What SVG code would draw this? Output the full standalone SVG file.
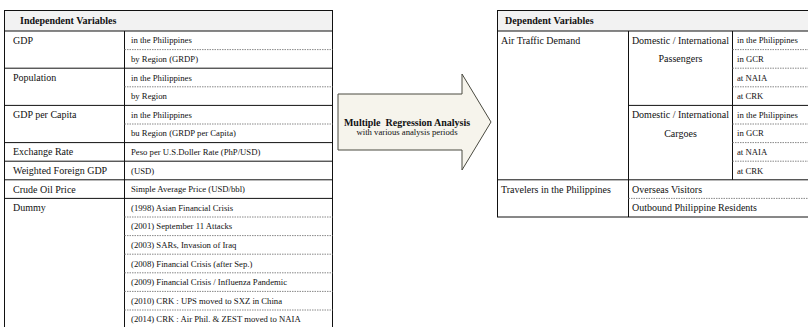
<svg xmlns="http://www.w3.org/2000/svg" width="808" height="327" viewBox="0 0 808 327">
<style>
text{font-family:"Liberation Serif","Times New Roman",serif;fill:#111}
.hd{font-weight:bold;font-size:10px}
.lb{font-size:10px}
.sm{font-size:8.7px}
.ln{stroke:#111;stroke-width:1;fill:none}
.ds{stroke:#888;stroke-width:1;stroke-dasharray:1.5 1;fill:none}
.hf{fill:#f2f2f2}
</style>
<rect width="808" height="327" fill="#fff"/>
<g id="independent">
<rect class="hf" x="4.5" y="10.5" width="328" height="20.5"/>
<rect class="ln" x="4.5" y="10.5" width="328" height="330"/>
<line class="ln" x1="124.5" y1="31" x2="124.5" y2="340"/>
<g class="ln">
<line x1="4.5" y1="31" x2="332.5" y2="31"/>
<line x1="4.5" y1="68.2" x2="332.5" y2="68.2"/>
<line x1="4.5" y1="105.4" x2="332.5" y2="105.4"/>
<line x1="4.5" y1="142.6" x2="332.5" y2="142.6"/>
<line x1="4.5" y1="161.2" x2="332.5" y2="161.2"/>
<line x1="4.5" y1="179.8" x2="332.5" y2="179.8"/>
<line x1="4.5" y1="198.4" x2="332.5" y2="198.4"/>
</g>
<g class="ds">
<line x1="124.5" y1="49.6" x2="332.5" y2="49.6"/>
<line x1="124.5" y1="86.8" x2="332.5" y2="86.8"/>
<line x1="124.5" y1="124" x2="332.5" y2="124"/>
<line x1="124.5" y1="217" x2="332.5" y2="217"/>
<line x1="124.5" y1="235.6" x2="332.5" y2="235.6"/>
<line x1="124.5" y1="254.2" x2="332.5" y2="254.2"/>
<line x1="124.5" y1="272.8" x2="332.5" y2="272.8"/>
<line x1="124.5" y1="291.4" x2="332.5" y2="291.4"/>
<line x1="124.5" y1="310" x2="332.5" y2="310"/>
</g>
<text class="hd" x="20" y="24">Independent Variables</text>
<g class="lb">
<text x="13" y="43.8">GDP</text>
<text x="13" y="81">Population</text>
<text x="13" y="118.2">GDP per Capita</text>
<text x="13" y="155.4">Exchange Rate</text>
<text x="13" y="174">Weighted Foreign GDP</text>
<text x="13" y="192.6">Crude Oil Price</text>
<text x="13" y="211.2">Dummy</text>
</g>
<g class="sm">
<text x="131" y="43.4">in the Philippines</text>
<text x="131" y="62">by Region (GRDP)</text>
<text x="131" y="80.6">in the Philippines</text>
<text x="131" y="99.2">by Region</text>
<text x="131" y="117.8">in the Philippines</text>
<text x="131" y="136.4">bu Region (GRDP per Capita)</text>
<text x="131" y="155">Peso per U.S.Doller Rate (PhP/USD)</text>
<text x="131" y="173.6">(USD)</text>
<text x="131" y="192.2">Simple Average Price (USD/bbl)</text>
<text x="131" y="210.8">(1998) Asian Financial Crisis</text>
<text x="131" y="229.4">(2001) September 11 Attacks</text>
<text x="131" y="248">(2003) SARs, Invasion of Iraq</text>
<text x="131" y="266.6">(2008) Financial Crisis (after Sep.)</text>
<text x="131" y="285.2">(2009) Financial Crisis / Influenza Pandemic</text>
<text x="131" y="303.8">(2010) CRK : UPS moved to SXZ in China</text>
<text x="131" y="322.4">(2014) CRK : Air Phil. &amp; ZEST moved to NAIA</text>
</g>
</g>
<g id="connectors">
<polygon points="338,94 462,94 462,74 491,122 462,170 462,150 338,150" fill="#f6f4ec" stroke="#4a4a40" stroke-width="1"/>
</g>
<g id="analysis">
<text class="hd" x="407" y="125.5" text-anchor="middle" xml:space="preserve">Multiple  Regression Analysis</text>
<text class="sm" x="407" y="134.5" text-anchor="middle">with various analysis periods</text>
</g>
<g id="dependent">
<rect class="hf" x="497.5" y="10.5" width="315" height="20.5"/>
<rect class="ln" x="497.5" y="10.5" width="315" height="206.5"/>
<line class="ln" x1="628.5" y1="31" x2="628.5" y2="217"/>
<line class="ln" x1="732.5" y1="31" x2="732.5" y2="179.8"/>
<g class="ln">
<line x1="497.5" y1="31" x2="812" y2="31"/>
<line x1="628.5" y1="105.4" x2="812" y2="105.4"/>
<line x1="497.5" y1="179.8" x2="812" y2="179.8"/>
</g>
<g class="ds">
<line x1="732.5" y1="49.6" x2="812" y2="49.6"/>
<line x1="732.5" y1="68.2" x2="812" y2="68.2"/>
<line x1="732.5" y1="86.8" x2="812" y2="86.8"/>
<line x1="732.5" y1="124" x2="812" y2="124"/>
<line x1="732.5" y1="142.6" x2="812" y2="142.6"/>
<line x1="732.5" y1="161.2" x2="812" y2="161.2"/>
<line x1="628.5" y1="198.4" x2="812" y2="198.4"/>
</g>
<text class="hd" x="505" y="24">Dependent Variables</text>
<g class="lb">
<text x="501" y="43.8">Air Traffic Demand</text>
<text x="680.5" y="43.8" text-anchor="middle">Domestic / International</text>
<text x="680.5" y="62.4" text-anchor="middle">Passengers</text>
<text x="680.5" y="118.2" text-anchor="middle">Domestic / International</text>
<text x="680.5" y="136.8" text-anchor="middle">Cargoes</text>
<text x="501" y="192.6">Travelers in the Philippines</text>
<text x="632" y="192.6">Overseas Visitors</text>
<text x="632" y="211.2">Outbound Philippine Residents</text>
</g>
<g class="sm">
<text x="737" y="43.4">in the Philippines</text>
<text x="737" y="62">in GCR</text>
<text x="737" y="80.6">at NAIA</text>
<text x="737" y="99.2">at CRK</text>
<text x="737" y="117.8">in the Philippines</text>
<text x="737" y="136.4">in GCR</text>
<text x="737" y="155">at NAIA</text>
<text x="737" y="173.6">at CRK</text>
</g>
</g>
</svg>
